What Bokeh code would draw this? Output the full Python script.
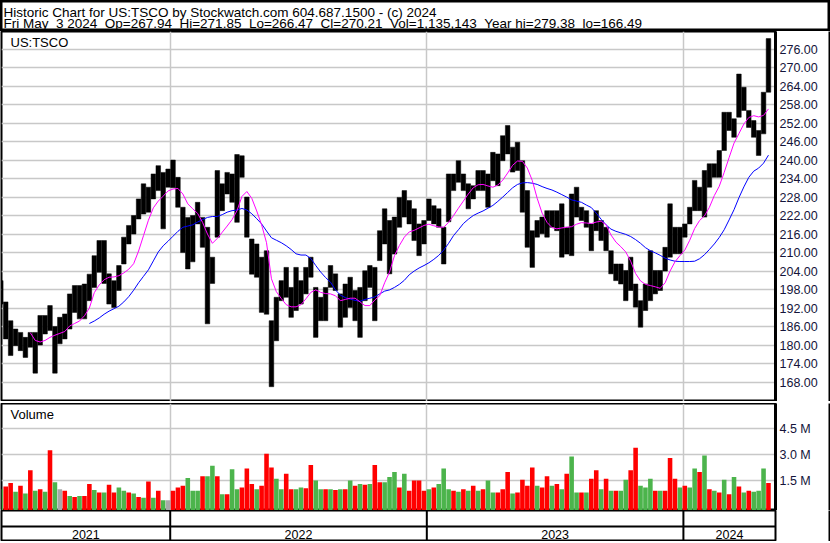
import pandas as pd
from bokeh.plotting import figure
from bokeh.layouts import column, row
from bokeh.models import Range1d, FixedTicker, Span, Label, NumeralTickFormatter, ColumnDataSource
from bokeh.core.properties import value
from bokeh.embed import file_html
from bokeh.resources import INLINE

nan = float("nan")

# ---------------- data (weekly) ----------------
week_start = "2021-05-05"
highs = [200.9, 194.0, 187.9, 185.2, 184.1, 182.5, 184.1, 184.1, 189.6, 189.6,
         192.8, 186.0, 189.0, 190.1, 196.6, 199.3, 199.3, 199.8, 203.0, 209.0,
         213.9, 213.9, 203.1, 200.9, 205.8, 215.0, 218.8, 222.0, 227.4, 232.3,
         231.2, 235.5, 238.2, 236.0, 237.1, 240.0, 234.4, 224.7, 221.4, 222.0,
         226.3, 221.4, 218.2, 208.5, 236.6, 232.3, 236.0, 235.5, 241.8, 241.4,
         228.0, 214.4, 212.8, 208.5, 210.6, 187.9, 195.5, 200.9, 205.2, 198.7,
         205.2, 200.9, 205.2, 208.5, 198.7, 195.5, 198.7, 205.8, 203.1, 196.6,
         199.8, 202.0, 197.7, 198.7, 204.1, 205.8, 205.2, 217.1, 224.2, 220.4,
         221.5, 227.9, 230.1, 226.9, 224.2, 219.3, 220.4, 227.4, 225.2, 224.2,
         218.2, 235.5, 235.5, 239.8, 235.5, 232.3, 231.7, 236.6, 236.6, 235.5,
         242.5, 242.0, 247.9, 251.2, 244.2, 245.8, 239.8, 230.1, 217.1, 220.4,
         221.5, 223.6, 223.6, 223.6, 225.8, 218.2, 229.0, 231.2, 224.7, 223.6,
         219.3, 223.6, 220.4, 218.2, 210.6, 206.3, 206.3, 204.2, 208.5, 199.8,
         194.4, 199.8, 210.6, 204.2, 204.2, 211.7, 225.8, 218.2, 218.2, 219.3,
         224.7, 233.4, 231.2, 236.6, 238.8, 238.8, 243.1, 255.5, 255.5, 253.4,
         267.9, 263.6, 256.1, 252.8, 249.6, 262.0, 279.4]
lows = [193.3, 182.0, 176.6, 179.8, 178.2, 176.0, 179.3, 170.9, 180.0, 183.6,
        184.7, 170.9, 180.4, 182.0, 185.2, 190.6, 188.5, 188.5, 194.4, 198.7,
        203.6, 200.0, 193.3, 192.2, 197.7, 206.3, 212.8, 216.0, 220.9, 222.5,
        223.1, 227.4, 230.1, 217.7, 231.2, 231.0, 224.7, 210.0, 204.7, 207.0,
        219.3, 211.7, 186.9, 200.0, 215.0, 223.6, 229.0, 226.3, 219.8, 234.4,
        215.0, 203.0, 202.0, 190.6, 190.0, 166.5, 181.4, 194.4, 195.5, 189.0,
        191.2, 193.3, 196.6, 202.0, 182.5, 187.9, 187.9, 198.7, 197.7, 185.8,
        189.0, 192.2, 187.9, 182.5, 194.4, 198.7, 187.9, 207.4, 212.8, 203.1,
        209.5, 218.2, 221.5, 219.3, 213.9, 209.0, 212.8, 220.4, 219.3, 218.2,
        206.3, 220.0, 230.1, 232.8, 230.1, 224.2, 227.4, 230.1, 230.1, 224.7,
        233.3, 231.7, 239.8, 242.0, 236.1, 236.6, 223.1, 211.7, 205.2, 215.0,
        216.1, 215.0, 218.2, 217.1, 208.5, 209.5, 209.0, 221.5, 220.4, 218.2,
        210.6, 217.1, 213.9, 210.6, 203.1, 200.9, 199.8, 194.4, 197.7, 192.3,
        185.8, 191.2, 194.4, 196.6, 197.7, 204.0, 208.5, 209.6, 209.6, 215.0,
        219.3, 223.6, 223.6, 221.5, 231.2, 234.4, 234.4, 243.1, 249.6, 247.4,
        253.9, 256.1, 250.6, 247.4, 241.5, 248.5, 262.0]
ma_short = [nan] * 6 + [
    184.0, 181.5, 181.0, 181.5, 182.5, 183.2, 183.8, 184.4, 186.2, 187.0,
    187.8, 189.5, 192.0, 197.0, 199.5, 201.2, 202.0, 202.1, 202.5, 203.4,
    204.6, 206.4, 210.5, 215.5, 220.5, 224.5, 226.7, 228.3, 230.0, 230.6,
    230.8, 229.0, 225.8, 224.2, 222.7, 219.8, 216.0, 213.0, 214.6, 216.6,
    218.6, 220.7, 223.6, 228.2, 229.8, 227.6, 223.5, 219.0, 213.2, 201.5,
    197.3, 195.1, 193.1, 192.4, 192.4, 193.1, 195.0, 197.1, 197.9, 197.1,
    196.7, 196.6, 196.0, 194.4, 194.8, 195.2, 195.2, 194.0, 192.8, 192.8,
    194.6, 196.0, 200.2, 203.7, 209.0, 212.3, 215.0, 216.7, 217.2, 218.0,
    218.8, 219.2, 218.7, 218.3, 218.2, 219.8, 222.0, 224.4, 226.7, 229.0,
    231.0, 232.0, 232.1, 231.6, 231.2, 231.9, 233.5, 235.8, 238.3, 239.7,
    239.6, 237.4, 233.4, 227.6, 222.8, 219.8, 218.1, 217.7, 218.0, 218.2,
    218.4, 219.2, 219.7, 219.6, 219.4, 219.9, 220.2, 219.0, 215.7, 213.4,
    211.9, 210.2, 207.2, 203.2, 200.8, 199.7, 199.3, 198.9, 198.4, 200.2,
    204.0, 207.0, 209.0, 210.8, 214.0, 217.8, 220.4, 221.9, 224.7, 228.5,
    231.5, 236.0, 240.8, 245.5, 248.6, 251.7, 253.8, 254.4, 254.0, 254.5, 256.6]
ma_long = [nan] * 18 + [
    187.0, 187.8, 188.8, 190.0, 191.0, 191.8, 192.6, 194.0, 195.7, 197.8,
    200.2, 202.3, 204.4, 207.3, 210.2, 212.2, 213.7, 215.3, 216.9, 218.2,
    218.6, 219.0, 219.9, 220.7, 221.4, 221.7, 221.7, 222.3, 223.1, 223.6,
    223.8, 224.3, 223.8, 222.6, 221.0, 219.3, 217.0, 214.8, 214.0, 213.2,
    212.2, 211.0, 209.6, 209.2, 209.2, 208.1, 205.8, 203.7, 201.9, 200.4,
    197.9, 196.2, 195.4, 194.9, 194.5, 194.2, 194.8, 195.2, 195.6, 196.6,
    197.5, 197.9, 198.7, 199.7, 201.0, 202.8, 204.0, 205.0, 205.8, 206.7,
    207.8, 209.1, 210.8, 213.0, 215.5, 217.4, 219.4, 220.8, 222.0, 222.8,
    223.5, 224.4, 225.3, 226.6, 228.0, 229.5, 231.0, 232.1, 232.6, 232.7,
    232.5, 232.1, 231.4, 230.8, 230.3, 229.6, 228.8, 228.0, 227.1, 226.7,
    226.3, 225.4, 224.6, 222.8, 220.8, 219.0, 217.6, 216.9, 216.4, 215.9,
    215.2, 214.2, 213.0, 211.6, 210.6, 209.9, 209.1, 208.2, 207.6, 207.2,
    207.1, 207.1, 207.1, 207.2, 208.0, 209.3, 211.0, 212.8, 214.9, 217.4,
    220.6, 223.9, 227.8, 231.3, 234.4, 236.4, 237.4, 239.0, 241.6]
volume_m = [1.0, 1.15, 1.35, 0.85, 1.2, 0.75, 2.1, 0.9, 1.0, 0.85,
            3.25, 1.4, 1.0, 0.9, 0.6, 0.55, 0.6, 0.6, 1.3, 0.95,
            0.8, 0.8, 1.25, 0.8, 1.1, 0.9, 0.8, 0.75, 0.55, 0.5,
            1.45, 0.5, 0.9, 0.35, 0.35, 0.9, 1.1, 1.2, 1.65, 0.9,
            0.9, 1.75, 1.75, 2.35, 1.75, 0.7, 0.7, 2.15, 1.0, 1.1,
            2.2, 1.3, 1.0, 1.2, 3.05, 2.25, 1.6, 1.0, 1.9, 1.0,
            1.0, 1.1, 1.05, 2.4, 1.5, 1.0, 1.0, 1.0, 0.95, 1.0,
            1.0, 1.5, 1.2, 1.3, 1.25, 1.3, 2.4, 1.4, 1.4, 1.7,
            2.0, 1.1, 1.9, 0.9, 1.5, 1.5, 0.9, 1.0, 1.1, 1.3,
            2.2, 1.0, 0.9, 0.85, 1.0, 0.9, 1.2, 0.9, 1.0, 1.5,
            0.8, 0.8, 1.0, 2.0, 0.75, 0.8, 1.55, 1.2, 2.25, 1.2,
            1.1, 1.75, 1.2, 1.3, 1.0, 1.9, 2.9, 0.8, 0.8, 0.8,
            1.6, 2.1, 1.0, 1.6, 0.9, 0.9, 0.9, 1.55, 2.1, 3.4,
            1.2, 1.1, 1.6, 0.9, 0.9, 0.9, 2.8, 1.6, 1.1, 1.2,
            1.1, 2.2, 2.0, 2.95, 1.0, 0.9, 0.8, 1.55, 0.7, 1.7,
            1.15, 0.8, 0.9, 0.85, 0.9, 2.2, 1.35]
# u = up (green), d = down (red), f = unchanged (grey)
volume_dir = ("u d d u d u d u d u "
              "d u f d u d u d d u "
              "d u d d u u d u d u "
              "d u d u f d d d u u "
              "u d u u d u d u u d "
              "d d u d d d u u d d "
              "u u d d u u d u d u "
              "d u d u d u d d u u "
              "u d u d d d d u d u "
              "u u d u d u d u d u "
              "u d d d u d d d d u "
              "d d u d u d u u d u "
              "d d u d u d u u d d "
              "u u u d u d d d u d "
              "u u d u d u d u d u "
              "d u d u u u d").split()

price_ticks = [168, 174, 180, 186, 192, 198, 204, 210, 216, 222,
               228, 234, 240, 246, 252, 258, 264, 270, 276]
volume_ticks = [1.5, 3.0, 4.5]
volume_tick_labels = ["1.5 M", "3.0 M", "4.5 M"]
year_starts = ["2022-01-01", "2023-01-01", "2024-01-01"]
year_labels = ["2021", "2022", "2023", "2024"]
symbol = "US:TSCO"
header_line1 = "Historic Chart for US:TSCO by Stockwatch.com 604.687.1500 - (c) 2024"
header_line2 = ("Fri May  3 2024  Op=267.94  Hi=271.85  Lo=266.47  Cl=270.21  "
                "Vol=1,135,143  Year hi=279.38  lo=166.49")

# ---------------- layout / styling ----------------
weeks = pd.date_range(week_start, periods=len(highs), freq="7D")
dir_colors = {"u": "#4cb44c", "d": "#ff0000", "f": "#a8a8a8"}
vol_colors = [dir_colors[d] for d in volume_dir]

FONT = "Liberation Sans"
W = 830
PW = 828
LB, RB = 1, 53
H_HDR, H_PRICE, H_SEP, H_VOL, H_BAND, H_BOT = 31, 370, 2, 107, 31, 2
DAY_MS = 24 * 3600 * 1000
bar_w = 6.5 * DAY_MS
x_start = pd.Timestamp("2021-05-06")
x_end = pd.Timestamp("2024-05-11")
xr = Range1d(start=x_start, end=x_end)
year_ms = [pd.Timestamp(d).value / 1e6 for d in year_starts]
GRID = "#c8c8c8"
LABEL_COLOR = "#14143a"


def strip(w, h):
    s = figure(width=w, height=h, toolbar_location=None, output_backend="svg",
               x_axis_location=None, y_axis_location=None, min_border=0,
               background_fill_color="black", border_fill_color="black",
               outline_line_color=None)
    s.grid.visible = False
    return s


# header
hdr = figure(width=W, height=H_HDR, x_range=Range1d(0, W), y_range=Range1d(0, H_HDR),
             toolbar_location=None, output_backend="svg", x_axis_location=None,
             y_axis_location=None, min_border=0)
hdr.grid.visible = False
hdr.outline_line_color = "black"
hdr.outline_line_width = 4
for txt, yy in ((header_line1, 19.2), (header_line2, 8.0)):
    hdr.add_layout(Label(x=3, y=yy, text=txt.replace("  ", " \u00a0"),
                         text_font=FONT, text_font_size="13.5px",
                         text_color="black", text_baseline="alphabetic"))

# price panel
p = figure(width=PW, height=H_PRICE, x_axis_type="datetime", x_range=xr,
           y_range=Range1d(161.7, 281.7), y_axis_location="right",
           x_axis_location=None, toolbar_location=None, output_backend="svg",
           min_border_left=LB, min_border_right=RB, min_border_top=0,
           min_border_bottom=0)
p.outline_line_color = "black"
p.outline_line_width = 2
p.xgrid.ticker = FixedTicker(ticks=year_ms)
p.ygrid.ticker = FixedTicker(ticks=price_ticks)
p.grid.grid_line_color = GRID
p.grid.grid_line_width = 1.5
ax = p.yaxis[0]
ax.ticker = FixedTicker(ticks=price_ticks)
ax.formatter = NumeralTickFormatter(format="0.00")

src = ColumnDataSource(dict(x=weeks, hi=highs, lo=lows, ma1=ma_short, ma2=ma_long))
p.vbar(x="x", top="hi", bottom="lo", width=bar_w, source=src,
       fill_color="black", line_color="black", line_width=0.5)
p.line(x="x", y="ma2", source=src, line_color="#0000ff", line_width=1)
p.line(x="x", y="ma1", source=src, line_color="#ff00ff", line_width=1)
p.add_layout(Label(x=9, x_units="screen", y=278.2, text=symbol, text_font=FONT,
                   text_font_size="13px", text_color="black",
                   text_baseline="alphabetic"))

# volume panel
vmin = -0.24
v = figure(width=PW, height=H_VOL, x_axis_type="datetime", x_range=xr,
           y_range=Range1d(vmin, 5.97), y_axis_location="right",
           x_axis_location=None, toolbar_location=None, output_backend="svg",
           min_border_left=LB, min_border_right=RB, min_border_top=0,
           min_border_bottom=0)
v.outline_line_color = "black"
v.outline_line_width = 2
v.xgrid.ticker = FixedTicker(ticks=year_ms)
v.ygrid.ticker = FixedTicker(ticks=volume_ticks)
v.grid.grid_line_color = GRID
v.grid.grid_line_width = 1.5
vax = v.yaxis[0]
vax.ticker = FixedTicker(ticks=volume_ticks)
vax.major_label_overrides = dict(zip(volume_ticks, volume_tick_labels))
vsrc = ColumnDataSource(dict(x=weeks, vol=volume_m, c=vol_colors))
v.vbar(x="x", top="vol", bottom=vmin, width=bar_w, source=vsrc,
       fill_color="c", line_color=None)
v.add_layout(Label(x=9, x_units="screen", y=5.36, text="Volume", text_font=FONT,
                   text_font_size="13px", text_color="black",
                   text_baseline="alphabetic"))

for a in (ax, vax):
    a.axis_line_color = "black"
    a.axis_line_width = 3
    a.major_tick_line_color = None
    a.minor_tick_line_color = None
    a.major_tick_out = 0
    a.major_tick_in = 0
    a.major_label_standoff = 4
    a.major_label_text_font = FONT
    a.major_label_text_font_size = "12.5px"
    a.major_label_text_color = LABEL_COLOR

# year band
b = figure(width=PW, height=H_BAND, x_axis_type="datetime", x_range=xr,
           y_range=Range1d(0, 1), x_axis_location=None, y_axis_location=None,
           toolbar_location=None, output_backend="svg",
           min_border_left=LB, min_border_right=RB, min_border_top=0,
           min_border_bottom=0)
b.grid.visible = False
b.outline_line_color = "black"
b.outline_line_width = 2
b.add_layout(Span(location=0.484, dimension="width", line_color="black", line_width=2))
for ms in year_ms:
    b.add_layout(Span(location=ms, dimension="height", line_color="black", line_width=2))
bounds = [x_start] + [pd.Timestamp(d) for d in year_starts] + [x_end]
mids = pd.to_datetime([bounds[i] + (bounds[i + 1] - bounds[i]) / 2
                       for i in range(len(bounds) - 1)])
b.text(x=mids, y=[0.24] * len(mids), text=year_labels, text_align="center",
       text_baseline="middle", text_font=value(FONT), text_font_size="12.5px",
       text_color="black")

layout = column(
    hdr,
    row(p, strip(2, H_PRICE)),
    strip(W, H_SEP),
    row(v, strip(2, H_VOL)),
    row(b, strip(2, H_BAND)),
    strip(W, H_BOT),
)

open("out.html", "w").write(file_html(layout, INLINE))
